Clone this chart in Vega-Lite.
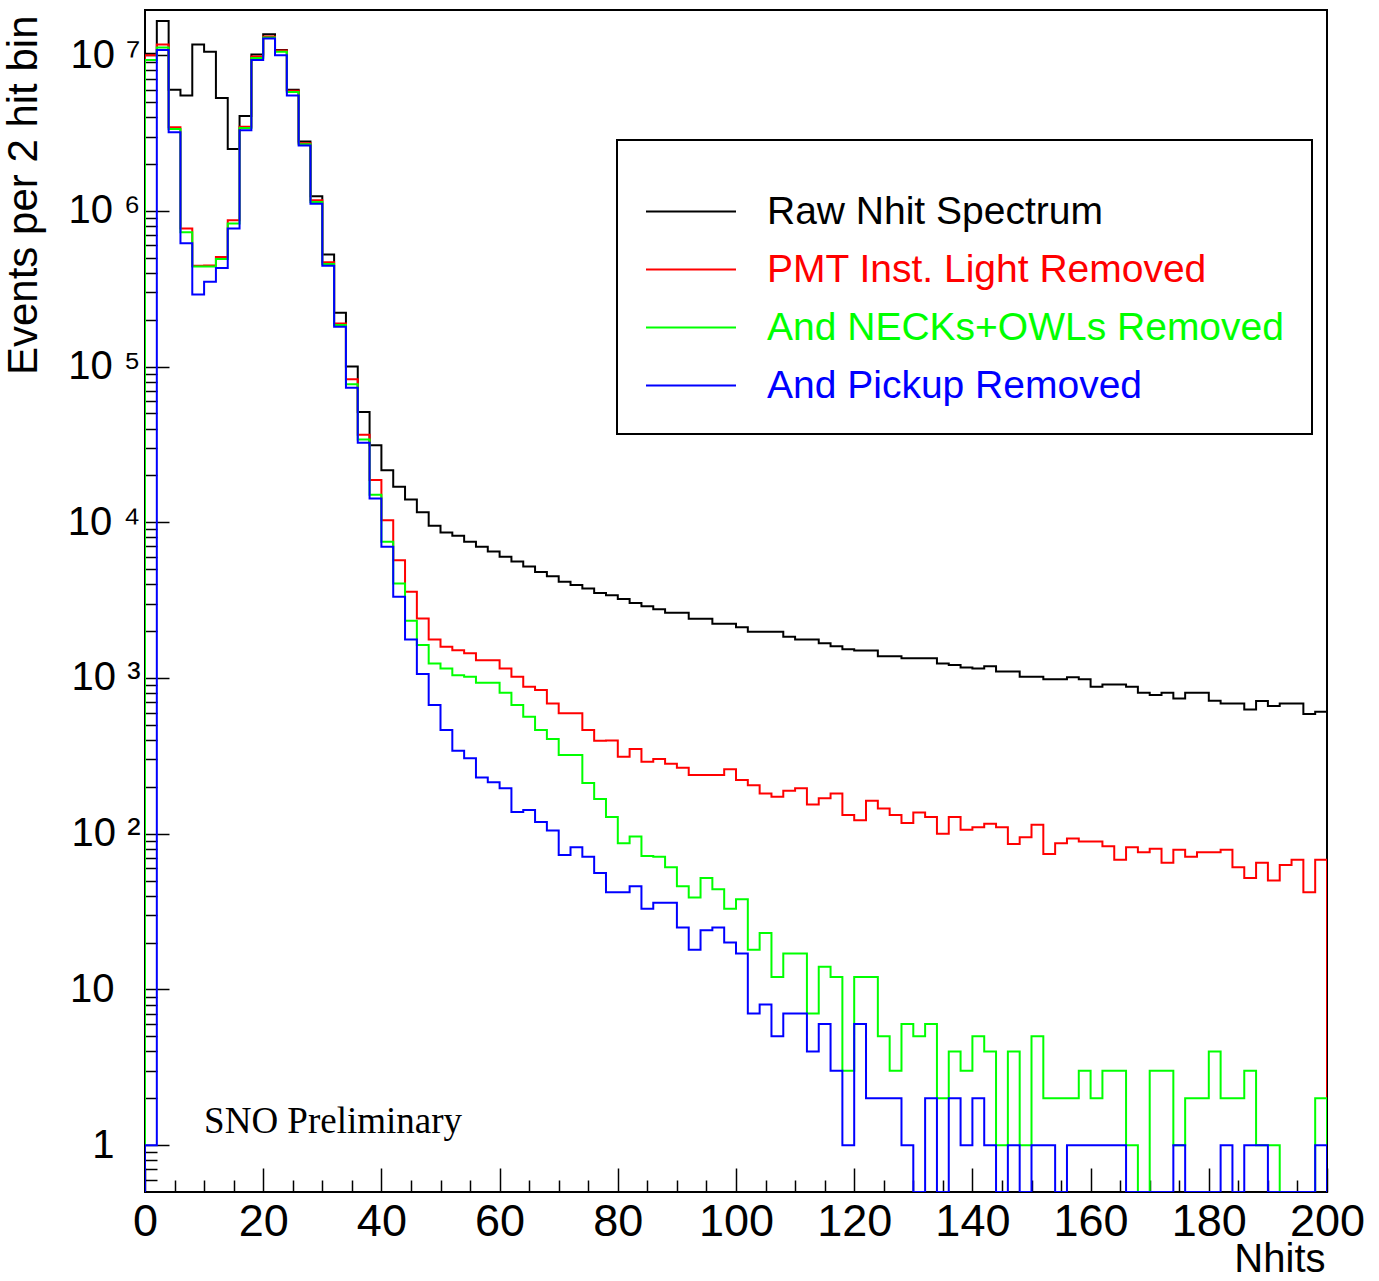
{
"$schema": "https://vega.github.io/schema/vega-lite/v6.json",
"width": 1182, "height": 1182,
"autosize": {"type": "none"},
"padding": {"left": 145, "top": 10, "right": 52, "bottom": 89},
"background": "white",
"config": {
 "view": {"stroke": "black", "strokeWidth": 2},
 "font": "Liberation Sans",
 "axis": {"grid": false, "domain": false, "tickColor": "black", "tickWidth": 1.5, "labelColor": "black", "titleColor": "black", "labelFont": "Liberation Sans", "titleFont": "Liberation Sans", "titleFontWeight": "normal"}
},
"datasets": {
"raw": [{"k":0,"x":0,"y":0.5},{"k":1,"x":0,"y":1.02e7},{"k":2,"x":2,"y":1.66e7},{"k":3,"x":4,"y":6.0e6},{"k":4,"x":6,"y":5.5e6},{"k":5,"x":8,"y":1.17e7},{"k":6,"x":10,"y":1.05e7},{"k":7,"x":12,"y":5.3e6},{"k":8,"x":14,"y":2.5e6},{"k":9,"x":16,"y":4.06e6},{"k":10,"x":18,"y":1.01e7},{"k":11,"x":20,"y":1.36e7},{"k":12,"x":22,"y":1.08e7},{"k":13,"x":24,"y":6.0e6},{"k":14,"x":26,"y":2.79e6},{"k":15,"x":28,"y":1.24e6},{"k":16,"x":30,"y":5.25e5},{"k":17,"x":32,"y":2.22e5},{"k":18,"x":34,"y":1.0e5},{"k":19,"x":36,"y":5.1e4},{"k":20,"x":38,"y":3.13e4},{"k":21,"x":40,"y":2.16e4},{"k":22,"x":42,"y":1.69e4},{"k":23,"x":44,"y":1.4e4},{"k":24,"x":46,"y":1.16e4},{"k":25,"x":48,"y":9500},{"k":26,"x":50,"y":8600},{"k":27,"x":52,"y":8200},{"k":28,"x":54,"y":7500},{"k":29,"x":56,"y":6970},{"k":30,"x":58,"y":6500},{"k":31,"x":60,"y":6000},{"k":32,"x":62,"y":5600},{"k":33,"x":64,"y":5200},{"k":34,"x":66,"y":4800},{"k":35,"x":68,"y":4500},{"k":36,"x":70,"y":4150},{"k":37,"x":72,"y":3950},{"k":38,"x":74,"y":3760},{"k":39,"x":76,"y":3520},{"k":40,"x":78,"y":3400},{"k":41,"x":80,"y":3220},{"k":42,"x":82,"y":3030},{"k":43,"x":84,"y":2890},{"k":44,"x":86,"y":2760},{"k":45,"x":88,"y":2620},{"k":46,"x":90,"y":2620},{"k":47,"x":92,"y":2400},{"k":48,"x":94,"y":2400},{"k":49,"x":96,"y":2230},{"k":50,"x":98,"y":2230},{"k":51,"x":100,"y":2120},{"k":52,"x":102,"y":1980},{"k":53,"x":104,"y":1980},{"k":54,"x":106,"y":1980},{"k":55,"x":108,"y":1840},{"k":56,"x":110,"y":1770},{"k":57,"x":112,"y":1770},{"k":58,"x":114,"y":1670},{"k":59,"x":116,"y":1600},{"k":60,"x":118,"y":1530},{"k":61,"x":120,"y":1500},{"k":62,"x":122,"y":1500},{"k":63,"x":124,"y":1380},{"k":64,"x":126,"y":1380},{"k":65,"x":128,"y":1340},{"k":66,"x":130,"y":1340},{"k":67,"x":132,"y":1340},{"k":68,"x":134,"y":1240},{"k":69,"x":136,"y":1210},{"k":70,"x":138,"y":1170},{"k":71,"x":140,"y":1150},{"k":72,"x":142,"y":1190},{"k":73,"x":144,"y":1100},{"k":74,"x":146,"y":1100},{"k":75,"x":148,"y":1020},{"k":76,"x":150,"y":1020},{"k":77,"x":152,"y":980},{"k":78,"x":154,"y":980},{"k":79,"x":156,"y":1010},{"k":80,"x":158,"y":980},{"k":81,"x":160,"y":879},{"k":82,"x":162,"y":910},{"k":83,"x":164,"y":910},{"k":84,"x":166,"y":879},{"k":85,"x":168,"y":804},{"k":86,"x":170,"y":777},{"k":87,"x":172,"y":804},{"k":88,"x":174,"y":739},{"k":89,"x":176,"y":804},{"k":90,"x":178,"y":804},{"k":91,"x":180,"y":714},{"k":92,"x":182,"y":687},{"k":93,"x":184,"y":687},{"k":94,"x":186,"y":628},{"k":95,"x":188,"y":711},{"k":96,"x":190,"y":660},{"k":97,"x":192,"y":687},{"k":98,"x":194,"y":687},{"k":99,"x":196,"y":587},{"k":100,"x":198,"y":607},{"k":101,"x":200,"y":607},{"k":102,"x":200,"y":0.5}],
"pmt": [{"k":0,"x":0,"y":0.5},{"k":1,"x":0,"y":1.0e7},{"k":2,"x":2,"y":1.17e7},{"k":3,"x":4,"y":3.45e6},{"k":4,"x":6,"y":7.7e5},{"k":5,"x":8,"y":4.44e5},{"k":6,"x":10,"y":4.45e5},{"k":7,"x":12,"y":5.05e5},{"k":8,"x":14,"y":8.7e5},{"k":9,"x":16,"y":3.47e6},{"k":10,"x":18,"y":9.8e6},{"k":11,"x":20,"y":1.32e7},{"k":12,"x":22,"y":1.07e7},{"k":13,"x":24,"y":5.9e6},{"k":14,"x":26,"y":2.72e6},{"k":15,"x":28,"y":1.17e6},{"k":16,"x":30,"y":4.67e5},{"k":17,"x":32,"y":1.89e5},{"k":18,"x":34,"y":8.3e4},{"k":19,"x":36,"y":3.65e4},{"k":20,"x":38,"y":1.87e4},{"k":21,"x":40,"y":1.03e4},{"k":22,"x":42,"y":5700},{"k":23,"x":44,"y":3580},{"k":24,"x":46,"y":2410},{"k":25,"x":48,"y":1770},{"k":26,"x":50,"y":1590},{"k":27,"x":52,"y":1510},{"k":28,"x":54,"y":1440},{"k":29,"x":56,"y":1300},{"k":30,"x":58,"y":1300},{"k":31,"x":60,"y":1150},{"k":32,"x":62,"y":1020},{"k":33,"x":64,"y":879},{"k":34,"x":66,"y":836},{"k":35,"x":68,"y":687},{"k":36,"x":70,"y":593},{"k":37,"x":72,"y":593},{"k":38,"x":74,"y":463},{"k":39,"x":76,"y":395},{"k":40,"x":78,"y":397},{"k":41,"x":80,"y":312},{"k":42,"x":82,"y":350},{"k":43,"x":84,"y":290},{"k":44,"x":86,"y":302},{"k":45,"x":88,"y":281},{"k":46,"x":90,"y":265},{"k":47,"x":92,"y":238},{"k":48,"x":94,"y":238},{"k":49,"x":96,"y":238},{"k":50,"x":98,"y":259},{"k":51,"x":100,"y":221},{"k":52,"x":102,"y":205},{"k":53,"x":104,"y":181},{"k":54,"x":106,"y":173},{"k":55,"x":108,"y":189},{"k":56,"x":110,"y":196},{"k":57,"x":112,"y":154},{"k":58,"x":114,"y":169},{"k":59,"x":116,"y":181},{"k":60,"x":118,"y":132},{"k":61,"x":120,"y":122},{"k":62,"x":122,"y":163},{"k":63,"x":124,"y":145},{"k":64,"x":126,"y":132},{"k":65,"x":128,"y":117},{"k":66,"x":130,"y":137},{"k":67,"x":132,"y":128},{"k":68,"x":134,"y":100},{"k":69,"x":136,"y":128},{"k":70,"x":138,"y":106},{"k":71,"x":140,"y":110},{"k":72,"x":142,"y":116},{"k":73,"x":144,"y":110},{"k":74,"x":146,"y":86},{"k":75,"x":148,"y":95},{"k":76,"x":150,"y":114},{"k":77,"x":152,"y":74},{"k":78,"x":154,"y":87},{"k":79,"x":156,"y":93},{"k":80,"x":158,"y":89},{"k":81,"x":160,"y":89},{"k":82,"x":162,"y":83},{"k":83,"x":164,"y":68},{"k":84,"x":166,"y":82},{"k":85,"x":168,"y":76},{"k":86,"x":170,"y":80},{"k":87,"x":172,"y":65},{"k":88,"x":174,"y":79},{"k":89,"x":176,"y":71},{"k":90,"x":178,"y":76},{"k":91,"x":180,"y":76},{"k":92,"x":182,"y":79},{"k":93,"x":184,"y":61},{"k":94,"x":186,"y":52},{"k":95,"x":188,"y":65},{"k":96,"x":190,"y":50},{"k":97,"x":192,"y":63},{"k":98,"x":194,"y":68},{"k":99,"x":196,"y":42},{"k":100,"x":198,"y":68},{"k":101,"x":200,"y":68},{"k":102,"x":200,"y":0.5}],
"neck": [{"k":0,"x":0,"y":0.5},{"k":1,"x":0,"y":9.3e6},{"k":2,"x":2,"y":1.12e7},{"k":3,"x":4,"y":3.35e6},{"k":4,"x":6,"y":7.3e5},{"k":5,"x":8,"y":4.4e5},{"k":6,"x":10,"y":4.4e5},{"k":7,"x":12,"y":4.9e5},{"k":8,"x":14,"y":8.3e5},{"k":9,"x":16,"y":3.4e6},{"k":10,"x":18,"y":9.6e6},{"k":11,"x":20,"y":1.3e7},{"k":12,"x":22,"y":1.05e7},{"k":13,"x":24,"y":5.8e6},{"k":14,"x":26,"y":2.68e6},{"k":15,"x":28,"y":1.14e6},{"k":16,"x":30,"y":4.55e5},{"k":17,"x":32,"y":1.85e5},{"k":18,"x":34,"y":7.7e4},{"k":19,"x":36,"y":3.4e4},{"k":20,"x":38,"y":1.5e4},{"k":21,"x":40,"y":7500},{"k":22,"x":42,"y":4050},{"k":23,"x":44,"y":2330},{"k":24,"x":46,"y":1630},{"k":25,"x":48,"y":1240},{"k":26,"x":50,"y":1150},{"k":27,"x":52,"y":1040},{"k":28,"x":54,"y":1020},{"k":29,"x":56,"y":931},{"k":30,"x":58,"y":931},{"k":31,"x":60,"y":804},{"k":32,"x":62,"y":670},{"k":33,"x":64,"y":564},{"k":34,"x":66,"y":463},{"k":35,"x":68,"y":405},{"k":36,"x":70,"y":320},{"k":37,"x":72,"y":320},{"k":38,"x":74,"y":212},{"k":39,"x":76,"y":167},{"k":40,"x":78,"y":128},{"k":41,"x":80,"y":87},{"k":42,"x":82,"y":96},{"k":43,"x":84,"y":72},{"k":44,"x":86,"y":71},{"k":45,"x":88,"y":61},{"k":46,"x":90,"y":46},{"k":47,"x":92,"y":39},{"k":48,"x":94,"y":52},{"k":49,"x":96,"y":44},{"k":50,"x":98,"y":33},{"k":51,"x":100,"y":38},{"k":52,"x":102,"y":18},{"k":53,"x":104,"y":23},{"k":54,"x":106,"y":12},{"k":55,"x":108,"y":17},{"k":56,"x":110,"y":17},{"k":57,"x":112,"y":7},{"k":58,"x":114,"y":14},{"k":59,"x":116,"y":12},{"k":60,"x":118,"y":3},{"k":61,"x":120,"y":12},{"k":62,"x":122,"y":12},{"k":63,"x":124,"y":5},{"k":64,"x":126,"y":3},{"k":65,"x":128,"y":6},{"k":66,"x":130,"y":5},{"k":67,"x":132,"y":6},{"k":68,"x":134,"y":2},{"k":69,"x":136,"y":4},{"k":70,"x":138,"y":3},{"k":71,"x":140,"y":5},{"k":72,"x":142,"y":4},{"k":73,"x":144,"y":1},{"k":74,"x":146,"y":4},{"k":75,"x":148,"y":1},{"k":76,"x":150,"y":5},{"k":77,"x":152,"y":2},{"k":78,"x":154,"y":2},{"k":79,"x":156,"y":2},{"k":80,"x":158,"y":3},{"k":81,"x":160,"y":2},{"k":82,"x":162,"y":3},{"k":83,"x":164,"y":3},{"k":84,"x":166,"y":1},{"k":85,"x":168,"y":0.5},{"k":86,"x":170,"y":3},{"k":87,"x":172,"y":3},{"k":88,"x":174,"y":1},{"k":89,"x":176,"y":2},{"k":90,"x":178,"y":2},{"k":91,"x":180,"y":4},{"k":92,"x":182,"y":2},{"k":93,"x":184,"y":2},{"k":94,"x":186,"y":3},{"k":95,"x":188,"y":1},{"k":96,"x":190,"y":1},{"k":97,"x":192,"y":0.5},{"k":98,"x":194,"y":0.5},{"k":99,"x":196,"y":0.5},{"k":100,"x":198,"y":2},{"k":101,"x":200,"y":2},{"k":102,"x":200,"y":0.5}],
"pick": [{"k":0,"x":0,"y":0.5},{"k":1,"x":0,"y":1},{"k":2,"x":2,"y":1.08e7},{"k":3,"x":4,"y":3.2e6},{"k":4,"x":6,"y":6.2e5},{"k":5,"x":8,"y":2.9e5},{"k":6,"x":10,"y":3.5e5},{"k":7,"x":12,"y":4.3e5},{"k":8,"x":14,"y":7.7e5},{"k":9,"x":16,"y":3.3e6},{"k":10,"x":18,"y":9.3e6},{"k":11,"x":20,"y":1.28e7},{"k":12,"x":22,"y":1.0e7},{"k":13,"x":24,"y":5.5e6},{"k":14,"x":26,"y":2.63e6},{"k":15,"x":28,"y":1.11e6},{"k":16,"x":30,"y":4.44e5},{"k":17,"x":32,"y":1.8e5},{"k":18,"x":34,"y":7.3e4},{"k":19,"x":36,"y":3.24e4},{"k":20,"x":38,"y":1.42e4},{"k":21,"x":40,"y":6970},{"k":22,"x":42,"y":3320},{"k":23,"x":44,"y":1770},{"k":24,"x":46,"y":1060},{"k":25,"x":48,"y":670},{"k":26,"x":50,"y":463},{"k":27,"x":52,"y":341},{"k":28,"x":54,"y":305},{"k":29,"x":56,"y":230},{"k":30,"x":58,"y":214},{"k":31,"x":60,"y":196},{"k":32,"x":62,"y":138},{"k":33,"x":64,"y":142},{"k":34,"x":66,"y":119},{"k":35,"x":68,"y":105},{"k":36,"x":70,"y":73},{"k":37,"x":72,"y":82},{"k":38,"x":74,"y":71},{"k":39,"x":76,"y":56},{"k":40,"x":78,"y":42},{"k":41,"x":80,"y":42},{"k":42,"x":82,"y":46},{"k":43,"x":84,"y":33},{"k":44,"x":86,"y":36},{"k":45,"x":88,"y":36},{"k":46,"x":90,"y":25},{"k":47,"x":92,"y":18},{"k":48,"x":94,"y":24},{"k":49,"x":96,"y":25},{"k":50,"x":98,"y":20},{"k":51,"x":100,"y":17},{"k":52,"x":102,"y":7},{"k":53,"x":104,"y":8},{"k":54,"x":106,"y":5},{"k":55,"x":108,"y":7},{"k":56,"x":110,"y":7},{"k":57,"x":112,"y":4},{"k":58,"x":114,"y":6},{"k":59,"x":116,"y":3},{"k":60,"x":118,"y":1},{"k":61,"x":120,"y":6},{"k":62,"x":122,"y":2},{"k":63,"x":124,"y":2},{"k":64,"x":126,"y":2},{"k":65,"x":128,"y":1},{"k":66,"x":130,"y":0.5},{"k":67,"x":132,"y":2},{"k":68,"x":134,"y":0.5},{"k":69,"x":136,"y":2},{"k":70,"x":138,"y":1},{"k":71,"x":140,"y":2},{"k":72,"x":142,"y":1},{"k":73,"x":144,"y":0.5},{"k":74,"x":146,"y":1},{"k":75,"x":148,"y":0.5},{"k":76,"x":150,"y":1},{"k":77,"x":152,"y":1},{"k":78,"x":154,"y":0.5},{"k":79,"x":156,"y":1},{"k":80,"x":158,"y":1},{"k":81,"x":160,"y":1},{"k":82,"x":162,"y":1},{"k":83,"x":164,"y":1},{"k":84,"x":166,"y":0.5},{"k":85,"x":168,"y":0.5},{"k":86,"x":170,"y":0.5},{"k":87,"x":172,"y":0.5},{"k":88,"x":174,"y":1},{"k":89,"x":176,"y":0.5},{"k":90,"x":178,"y":0.5},{"k":91,"x":180,"y":0.5},{"k":92,"x":182,"y":1},{"k":93,"x":184,"y":0.5},{"k":94,"x":186,"y":1},{"k":95,"x":188,"y":1},{"k":96,"x":190,"y":0.5},{"k":97,"x":192,"y":0.5},{"k":98,"x":194,"y":0.5},{"k":99,"x":196,"y":0.5},{"k":100,"x":198,"y":1},{"k":101,"x":200,"y":1},{"k":102,"x":200,"y":0.5}],
"note": [{"x": 10, "y": 1.2, "t": "SNO Preliminary"}]
},
"layer": [
 {"data": {"name": "raw"},
  "mark": {"type": "line", "interpolate": "step-after", "strokeWidth": 2, "clip": true},
  "encoding": {
   "x": {"field": "x", "type": "quantitative",
         "scale": {"domain": [0, 200], "nice": false, "zero": false},
         "axis": {"orient": "bottom", "values": [0,20,40,60,80,100,120,140,160,180,200], "tickSize": -24, "labelPadding": 31, "labelFontSize": 45, "labelOverlap": false, "labelFlush": false,
                  "title": "Nhits", "titleFontSize": 40, "titleAnchor": "end", "titleAlign": "right", "titleX": 1180, "titleY": 79, "titleBaseline": "alphabetic"}},
   "y": {"field": "y", "type": "quantitative",
         "scale": {"type": "log", "domain": [0.5, 1.95e7], "nice": false},
         "axis": {"orient": "left", "values": [1,10,100,1000,10000,100000,1000000,10000000], "tickSize": -24,
                  "labelPadding": {"condition": {"test": "datum.value < 50", "value": 55}, "value": 29},
                  "labelFontSize": 40, "labelAlign": "right", "labelBaseline": "middle", "labelOverlap": false,
                  "labelExpr": "datum.value < 5 ? '1' : datum.value < 50 ? '10' : '10 ' + ['','','\u00b2','\u00b3','\u2074','\u2075','\u2076','\u2077'][round(log(datum.value)/LN10)]",
                  "title": "Events per 2 hit bin", "titleFontSize": 42, "titleAnchor": "end", "titleAlign": "right", "titleAngle": -90, "titleX": -100, "titleY": 5, "titleBaseline": "bottom"}},
   "order": {"field": "k", "type": "quantitative"},
   "color": {"datum": "Raw Nhit Spectrum", "type": "nominal",
             "scale": {"domain": ["Raw Nhit Spectrum", "PMT Inst. Light Removed", "And NECKs+OWLs Removed", "And Pickup Removed"], "range": ["#000000", "#ff0000", "#00ff00", "#0000ff"]},
             "legend": {"orient": "none", "legendX": 472, "legendY": 130, "title": " ", "titleFontSize": 20, "titlePadding": 0,
                        "symbolType": "M-1,0H3", "symbolSize": 2025, "symbolStrokeWidth": 2, "symbolFillColor": "transparent", "labelFontSize": 39, "labelFont": "Liberation Sans", "labelOffset": 75, "labelLimit": 1000, "rowPadding": 14, "padding": 28,
                        "strokeColor": "black", "fillColor": "white",
                        "encode": {"labels": {"update": {"fill": {"scale": "color", "field": "value"}}}, "legend": {"update": {"strokeWidth": {"value": 2}}}}}}
  }},
 {"data": {"name": "pmt"},
  "mark": {"type": "line", "interpolate": "step-after", "strokeWidth": 2, "clip": true},
  "encoding": {"x": {"field": "x", "type": "quantitative", "axis": null}, "y": {"field": "y", "type": "quantitative", "axis": null},
   "order": {"field": "k", "type": "quantitative"}, "color": {"datum": "PMT Inst. Light Removed", "type": "nominal"}}},
 {"data": {"name": "neck"},
  "mark": {"type": "line", "interpolate": "step-after", "strokeWidth": 2, "clip": true},
  "encoding": {"x": {"field": "x", "type": "quantitative", "axis": null}, "y": {"field": "y", "type": "quantitative", "axis": null},
   "order": {"field": "k", "type": "quantitative"}, "color": {"datum": "And NECKs+OWLs Removed", "type": "nominal"}}},
 {"data": {"name": "pick"},
  "mark": {"type": "line", "interpolate": "step-after", "strokeWidth": 2, "clip": true},
  "encoding": {"x": {"field": "x", "type": "quantitative", "axis": null}, "y": {"field": "y", "type": "quantitative", "axis": null},
   "order": {"field": "k", "type": "quantitative"}, "color": {"datum": "And Pickup Removed", "type": "nominal"}}},
 {"data": {"name": "raw"},
  "mark": {"type": "point", "opacity": 0},
  "encoding": {
   "x": {"field": "x", "type": "quantitative",
         "axis": {"orient": "bottom", "values": [5,10,15,25,30,35,45,50,55,65,70,75,85,90,95,105,110,115,125,130,135,145,150,155,165,170,175,185,190,195], "labels": false, "tickSize": -12, "title": null}},
   "y": {"field": "y", "type": "quantitative",
         "axis": {"orient": "left", "values": [0.6,0.7,0.8,0.9,2,3,4,5,6,7,8,9,20,30,40,50,60,70,80,90,200,300,400,500,600,700,800,900,2000,3000,4000,5000,6000,7000,8000,9000,20000,30000,40000,50000,60000,70000,80000,90000,200000,300000,400000,500000,600000,700000,800000,900000,2000000,3000000,4000000,5000000,6000000,7000000,8000000,9000000], "labels": false, "tickSize": -12, "title": null}}
  }},
 {"data": {"name": "note"},
  "mark": {"type": "text", "font": "Liberation Serif", "fontSize": 37, "align": "left", "baseline": "alphabetic", "color": "black"},
  "encoding": {"x": {"field": "x", "type": "quantitative", "axis": null}, "y": {"field": "y", "type": "quantitative", "axis": null}, "text": {"field": "t"}}}
],
"resolve": {"axis": {"x": "independent", "y": "independent"}}
}
